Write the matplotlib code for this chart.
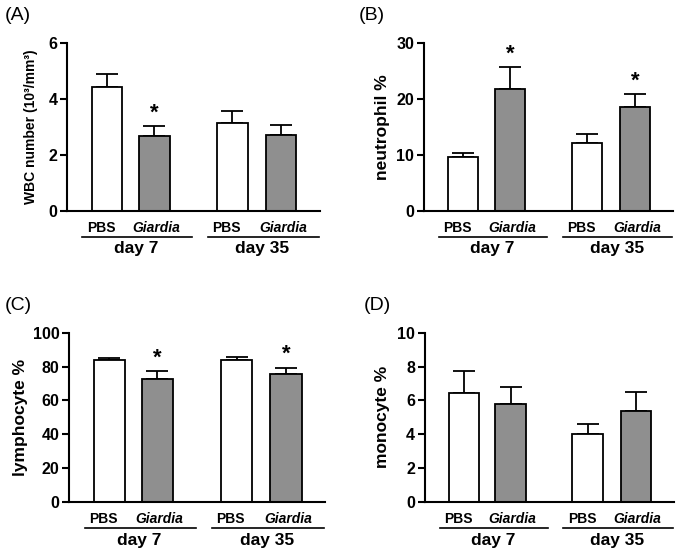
import matplotlib
matplotlib.use('Agg')
import matplotlib.pyplot as plt

plt.rcParams['font.family'] = ['Liberation Sans', 'DejaVu Sans']

# data (mean, upper SEM): PBS d7, Giardia d7, PBS d35, Giardia d35
groups = ['PBS', 'Giardia', 'PBS', 'Giardia']
days = ['day 7', 'day 35']

wbc = [4.41, 2.66, 3.14, 2.70]
wbc_err = [0.49, 0.36, 0.44, 0.38]
wbc_sig = [False, True, False, False]

neut = [9.7, 21.7, 12.2, 18.5]
neut_err = [0.7, 3.9, 1.6, 2.3]
neut_sig = [False, True, False, True]

lymph = [83.8, 72.4, 83.8, 75.9]
lymph_err = [1.4, 4.7, 1.6, 3.4]
lymph_sig = [False, True, False, True]

mono = [6.43, 5.78, 4.02, 5.40]
mono_err = [1.32, 1.02, 0.61, 1.11]
mono_sig = [False, False, False, False]

panels = [
    ('(A)', 'WBC number (10³/mm³)', wbc, wbc_err, wbc_sig, 6, 2),
    ('(B)', 'neutrophil %', neut, neut_err, neut_sig, 30, 10),
    ('(C)', 'lymphocyte %', lymph, lymph_err, lymph_sig, 100, 20),
    ('(D)', 'monocyte %', mono, mono_err, mono_sig, 10, 2),
]

# axes rectangles in figure fraction
rects = [
    [0.098, 0.620, 0.369, 0.303],
    [0.619, 0.620, 0.364, 0.303],
    [0.101, 0.0955, 0.374, 0.305],
    [0.620, 0.0955, 0.364, 0.305],
]
ylab_x = [-0.115, -0.137, -0.16, -0.14]
ylab_size = [10, 12.5, 12.5, 12.5]
tag_pos = [(18, 15), (372, 15), (18, 305), (377, 305)]

xpos = [1, 2, 3.65, 4.68]
colors = ['white', '#8f8f8f', 'white', '#8f8f8f']

fig = plt.figure(figsize=(6.85, 5.55), dpi=100)

for i, (tag, ylab, vals, errs, sig, ymax, step) in enumerate(panels):
    ax = fig.add_axes(rects[i])
    ax.bar(xpos, vals, width=0.65, color=colors, edgecolor='black', linewidth=1.3,
           zorder=2)
    ax.errorbar(xpos, vals, yerr=[[0] * 4, errs], fmt='none', ecolor='black',
                elinewidth=1.3, capsize=8, capthick=1.3, zorder=1)
    for x, v, e, s in zip(xpos, vals, errs, sig):
        if s:
            ax.annotate('*', (x, v + e), xytext=(0, 2), textcoords='offset points',
                        ha='center', va='bottom', fontsize=16, fontweight='bold')
    ax.set_xlim(0.16, 5.5)
    ax.set_ylim(0, ymax)
    ax.set_yticks(range(0, ymax + 1, step))
    ax.set_xticks([])
    for t in ax.get_yticklabels():
        t.set_fontweight('bold')
    ax.tick_params(axis='y', direction='out', length=5, width=1.5, labelsize=11.5,
                   pad=2)
    for side in ['top', 'right']:
        ax.spines[side].set_visible(False)
    for side in ['left', 'bottom']:
        ax.spines[side].set_linewidth(1.5)
    ax.set_ylabel(ylab, fontsize=ylab_size[i], fontweight='bold')
    ax.yaxis.set_label_coords(ylab_x[i], 0.5)

    trans = ax.get_xaxis_transform()
    for k in range(2):
        x0, x1 = xpos[2 * k], xpos[2 * k + 1]
        ax.text(x0 - 0.12, -0.10, groups[2 * k], transform=trans, ha='center',
                va='center', fontsize=10, fontweight='bold')
        ax.text(x1 + 0.04, -0.10, groups[2 * k + 1], transform=trans, ha='center',
                va='center', fontsize=10, fontweight='bold', style='italic')
        ax.plot([x0 - 0.52, x1 + 0.8], [-0.155, -0.155], transform=trans,
                color='black', lw=1.2, clip_on=False)
        ax.text((x0 + x1) / 2 + 0.12, -0.225, days[k], transform=trans,
                ha='center', va='center', fontsize=12.5, fontweight='bold')

    fig.text(tag_pos[i][0] / 685, 1 - tag_pos[i][1] / 555, tag, ha='center',
             va='center', fontsize=14)

fig.savefig('out.png', dpi=100)
